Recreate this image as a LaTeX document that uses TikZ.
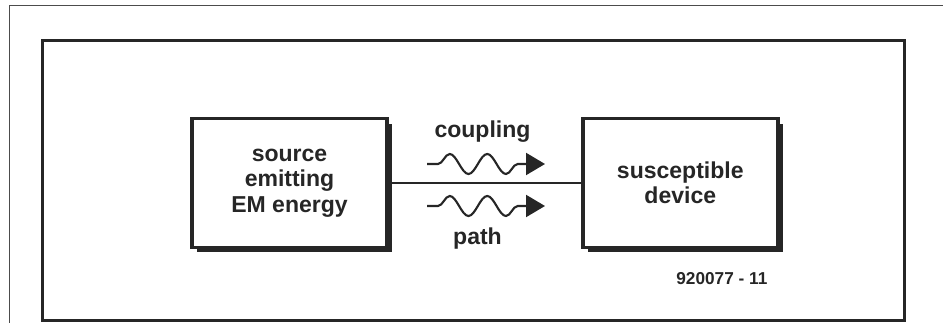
\documentclass[tikz,border=0pt]{standalone}
\usepackage{fontspec}
\setmainfont{Liberation Sans}
\usepackage{tikz}
\usetikzlibrary{arrows.meta,positioning,shadows,decorations.pathmorphing}

\begin{document}
\begin{tikzpicture}[
  x=0.02cm, y=-0.02cm,
  node distance=3.84cm,
  ink/.style={draw=black!85},
  unit/.style={rectangle, ink, fill=white, line width=2.2pt,
               minimum width=3.9cm, minimum height=2.58cm,
               align=center, text=black!85,
               font=\bfseries\fontsize{13.1pt}{14.4pt}\selectfont,
               drop shadow={shadow xshift=0.1cm, shadow yshift=-0.1cm,
                            fill=black!85, opacity=1}},
  wave/.style={ink, line width=1.2pt, decorate,
               decoration={snake, amplitude=0.2cm, segment length=0.75cm,
                           pre length=0.22cm, post length=0.22cm},
               -{Triangle[length=0.38cm, width=0.44cm]}},
  lbl/.style={text=black!85, font=\bfseries\fontsize{13.1pt}{14.4pt}\selectfont,
              inner sep=0pt},
  tag/.style={text=black!85, font=\bfseries\fontsize{9.8pt}{10pt}\selectfont,
              inner sep=0pt}
]
\useasboundingbox (0,0) rectangle (943,323);
% page edge and figure frame
\draw[black!70, line width=1.1pt] (9.5,323) |- (943,5.5);
\draw[ink, line width=2.2pt] (42.5,40.5) rectangle (904.5,320.5);

\node[unit]             (src) at (289.5,183) {source\\emitting\\EM energy};
\node[unit, right=of src] (dev) {susceptible\\device};
\node[tag, below left=0.45cm and 0.24cm of dev.south east] (fig) {920077 - 11};

\draw[ink, line width=0.85pt] (src) -- (dev);

\coordinate (w1a) at (427,164);
\coordinate (w1b) at (545,164);
\coordinate (w2a) at (427,206);
\coordinate (w2b) at (545,206);
\draw[wave] (w1a) -- (w1b);
\draw[wave] (w2a) -- (w2b);

\node[lbl, anchor=base] (cpl) at (482.5,138) {coupling};
\node[lbl, anchor=base] (pth) at (477.5,245) {path};
\end{tikzpicture}
\end{document}
